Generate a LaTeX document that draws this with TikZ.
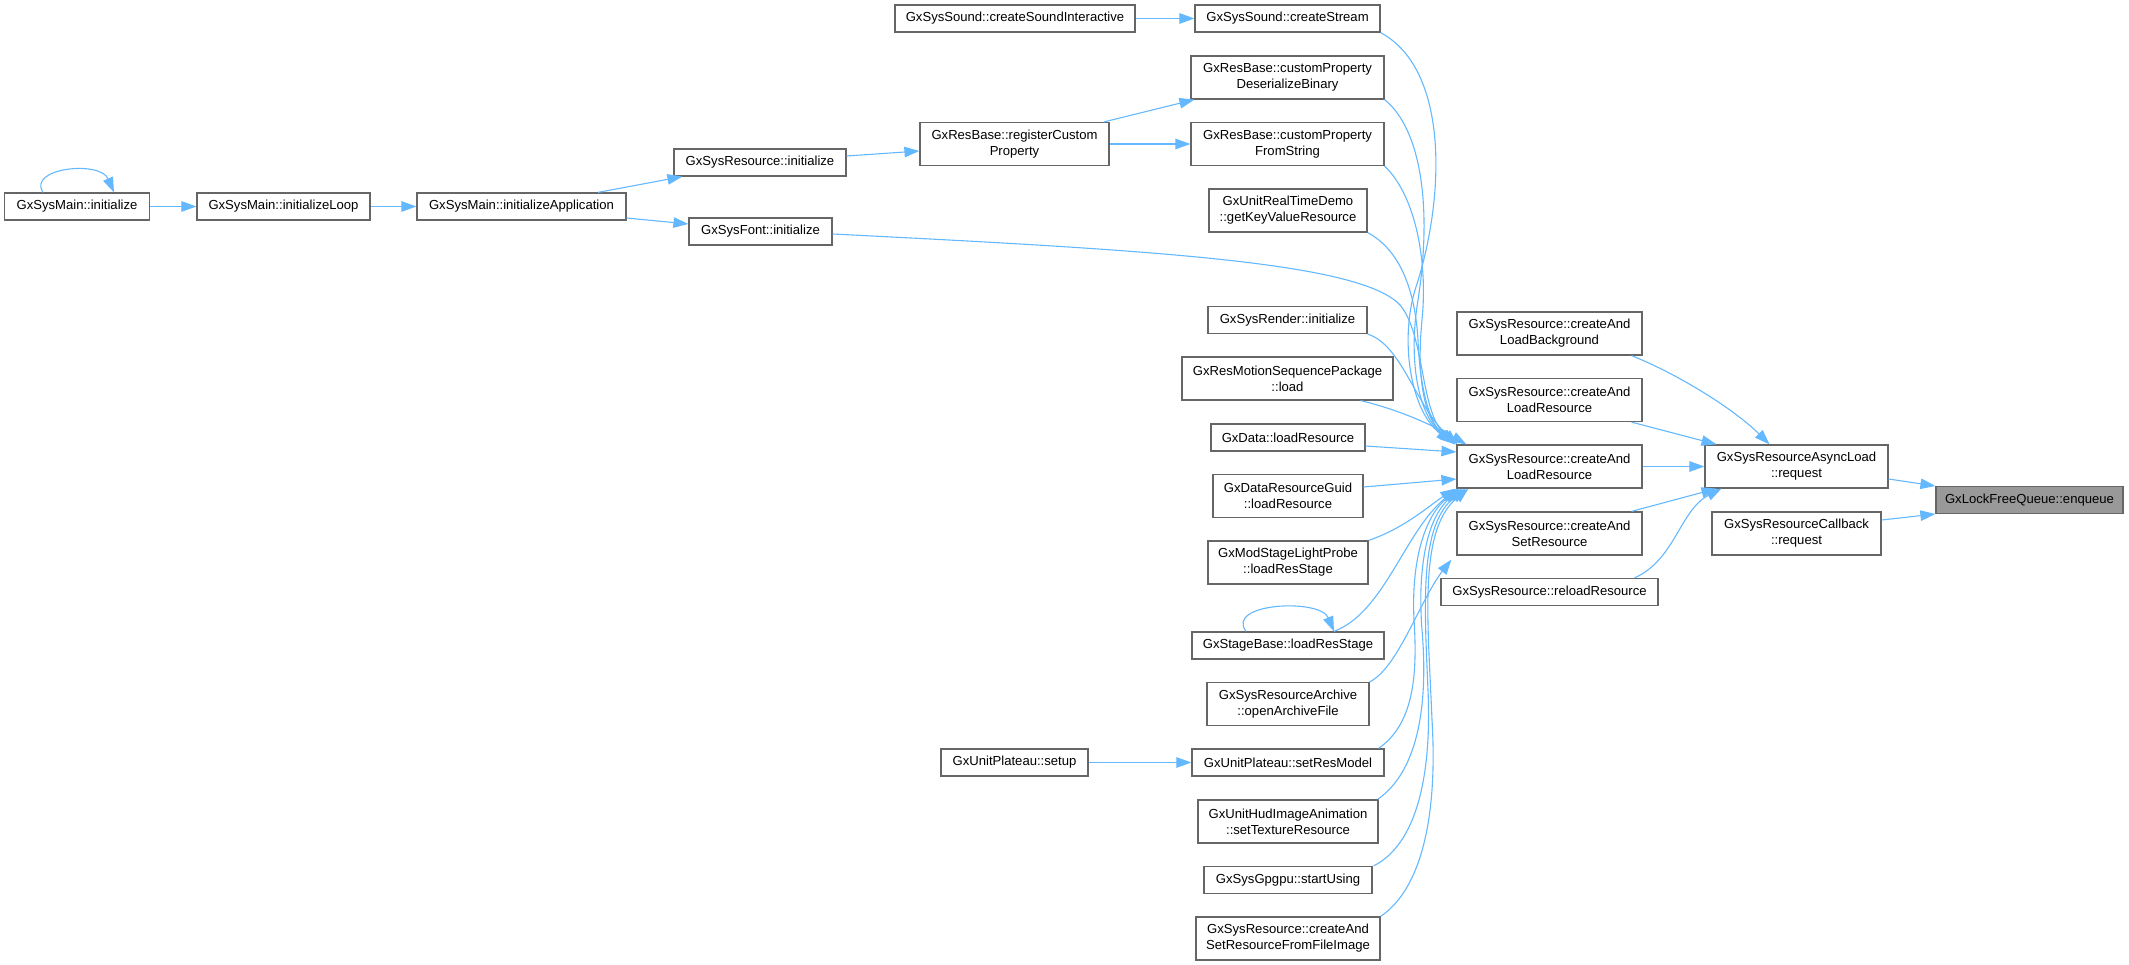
\documentclass[tikz,border=0pt]{standalone}
\usepackage{fontspec}
\setmainfont{Liberation Sans}
\usetikzlibrary{arrows.meta}
\definecolor{edgeblue}{HTML}{63B8FF}
\definecolor{boxgray}{HTML}{666666}
\definecolor{hifill}{HTML}{999999}
\begin{document}
\begin{tikzpicture}[x=1pt,y=-1pt,
 box/.style={draw=boxgray, fill=white, line width=1.2pt, inner sep=0pt, align=center,
   font=\fontsize{13.1}{16}\selectfont, minimum height=27pt},
 tall/.style={minimum height=43pt},
 edge/.style={draw=edgeblue, line width=1.1pt, -{Triangle[length=15pt,width=10.5pt]}},
]
\useasboundingbox (0,0) rectangle (2129,965);

% left chain
\node[box, minimum width=145.5pt] (mainInit) at (77,206.5) {GxSysMain::initialize};
\node[box, minimum width=173pt] (initLoop) at (283.5,206.5) {GxSysMain::initializeLoop};
\node[box, minimum width=209pt] (initApp) at (521.5,206.5) {GxSysMain::initializeApplication};
\node[box, minimum width=172pt] (resInit) at (760,162.5) {GxSysResource::initialize};
\node[box, minimum width=143pt] (fontInit) at (760.5,231.5) {GxSysFont::initialize};
\node[box, minimum width=240pt] (soundInter) at (1015,18.5) {GxSysSound::createSoundInteractive};
\node[box, tall, minimum width=189pt] (regProp) at (1014.5,144) {GxResBase::registerCustom\\Property};
\node[box, minimum width=147pt] (setup) at (1014.5,762.5) {GxUnitPlateau::setup};

% middle column
\node[box, minimum width=185pt] (createStream) at (1287.5,18.5) {GxSysSound::createStream};
\node[box, tall, minimum width=193pt] (deserBin) at (1287.5,77.5) {GxResBase::customProperty\\DeserializeBinary};
\node[box, tall, minimum width=193pt] (fromStr) at (1287.5,144) {GxResBase::customProperty\\FromString};
\node[box, tall, minimum width=158pt] (getKV) at (1288,210.5) {GxUnitRealTimeDemo\\::getKeyValueResource};
\node[box, minimum width=159pt] (render) at (1287.5,320) {GxSysRender::initialize};
\node[box, tall, minimum width=211pt] (motion) at (1287.5,378.5) {GxResMotionSequencePackage\\::load};
\node[box, minimum width=154pt] (dataLoad) at (1288,437.5) {GxData::loadResource};
\node[box, tall, minimum width=150pt] (guid) at (1288,496) {GxDataResourceGuid\\::loadResource};
\node[box, tall, minimum width=160pt] (probe) at (1288,562.5) {GxModStageLightProbe\\::loadResStage};
\node[box, minimum width=192pt] (stageBase) at (1288,645.5) {GxStageBase::loadResStage};
\node[box, tall, minimum width=162pt] (archive) at (1288,704) {GxSysResourceArchive\\::openArchiveFile};
\node[box, minimum width=192pt] (setResModel) at (1288,762.5) {GxUnitPlateau::setResModel};
\node[box, tall, minimum width=180pt] (hud) at (1288,821.5) {GxUnitHudImageAnimation\\::setTextureResource};
\node[box, minimum width=168pt] (gpgpu) at (1288,880) {GxSysGpgpu::startUsing};
\node[box, tall, minimum width=184pt] (fromFile) at (1288,938.5) {GxSysResource::createAnd\\SetResourceFromFileImage};

% right columns
\node[box, tall, minimum width=185pt] (loadBg) at (1549.5,333.5) {GxSysResource::createAnd\\LoadBackground};
\node[box, tall, minimum width=185pt] (loadRes2) at (1549.5,400) {GxSysResource::createAnd\\LoadResource};
\node[box, tall, minimum width=185pt] (hub) at (1549.5,466.5) {GxSysResource::createAnd\\LoadResource};
\node[box, tall, minimum width=185pt] (setRes) at (1549.5,533.5) {GxSysResource::createAnd\\SetResource};
\node[box, minimum width=217pt] (reload) at (1549.5,592) {GxSysResource::reloadResource};
\node[box, tall, minimum width=183pt] (async) at (1796.5,466.5) {GxSysResourceAsyncLoad\\::request};
\node[box, tall, minimum width=169pt] (callback) at (1796.5,533.5) {GxSysResourceCallback\\::request};
\node[box, fill=hifill, minimum width=187pt] (enqueue) at (2029.5,500) {GxLockFreeQueue::enqueue};

% left edges
\draw[edge] (mainInit.east) -- (initLoop.west);
\draw[edge] ([xshift=-34pt]mainInit.north) .. controls (27,168) and (100,160) .. ([xshift=37pt]mainInit.north);
\draw[edge] (initLoop.east) -- (initApp.west);
\draw[edge] ([xshift=76.5pt]initApp.north) -- ([xshift=9pt]resInit.south west);
\draw[edge] ([yshift=-11.5pt]initApp.east) -- ([yshift=7.5pt]fontInit.west);
\draw[edge] ([yshift=6.5pt]resInit.east) -- ([yshift=-7pt]regProp.west);
\draw[edge] ([xshift=89.5pt]regProp.north) -- ([xshift=4pt]deserBin.south west);
\draw[edge] (regProp.east) -- (fromStr.west);
\draw[edge] (soundInter.east) -- (createStream.west);
\draw[edge] (setup.east) -- (setResModel.west);

% edges into hub from above
\draw[edge] (createStream.south east) .. controls (1450,70) and (1445,200) .. (1415,290)
  .. controls (1400,340) and (1410,410) .. ([xshift=-5pt,yshift=2pt]hub.north west);
\draw[edge] (deserBin.south east) .. controls (1422,130) and (1432,210) .. (1418,300)
  .. controls (1408,360) and (1418,415) .. ([xshift=-3pt,yshift=1pt]hub.north west);
\draw[edge] (fromStr.south east) .. controls (1415,195) and (1428,260) .. (1422,320)
  .. controls (1416,380) and (1425,420) .. ([xshift=-2pt,yshift=1pt]hub.north west);
\draw[edge] (getKV.south east) .. controls (1400,250) and (1415,290) .. (1418,340)
  .. controls (1420,390) and (1430,425) .. ([xshift=-1pt]hub.north west);
\draw[edge] ([yshift=-2.5pt]fontInit.east) .. controls (1150,250) and (1360,262) .. (1400,305)
  .. controls (1425,335) and (1420,410) .. ([xshift=-2pt]hub.north west);
\draw[edge] (render.south east) .. controls (1402,345) and (1415,405) .. ([xshift=1pt]hub.north west);
\draw[edge] ([xshift=-33pt]motion.south east) .. controls (1400,410) and (1432,425) .. ([xshift=10pt]hub.north west);
\draw[edge] ([yshift=-8.5pt]dataLoad.east) -- ([yshift=14.5pt]hub.west);
\draw[edge] ([yshift=9pt]guid.east) -- ([yshift=-12.5pt]hub.west);

% edges into hub from below
\draw[edge] (probe.north east) .. controls (1405,528) and (1430,505) .. ([xshift=-1pt]hub.south west);
\draw[edge] ([xshift=46pt]stageBase.north) .. controls (1385,612) and (1405,530) .. ([xshift=1pt]hub.south west);
\draw[edge] ([xshift=-6pt]setResModel.north east) .. controls (1412,725) and (1418,680) .. (1414,620)
  .. controls (1411,560) and (1425,515) .. ([xshift=3pt]hub.south west);
\draw[edge] ([xshift=-1pt]hud.north east) .. controls (1420,770) and (1428,700) .. (1422,630)
  .. controls (1417,565) and (1428,515) .. ([xshift=6pt]hub.south west);
\draw[edge] ([xshift=1pt]gpgpu.north east) .. controls (1415,845) and (1432,780) .. (1428,690)
  .. controls (1424,600) and (1420,525) .. ([xshift=9pt]hub.south west);
\draw[edge] (fromFile.north east) .. controls (1420,890) and (1438,820) .. (1432,720)
  .. controls (1428,620) and (1418,530) .. ([xshift=12pt]hub.south west);
\draw[edge] ([xshift=-42pt]stageBase.north) .. controls (1225,603) and (1320,598) .. ([xshift=46pt]stageBase.north);
\draw[edge] (archive.north east) .. controls (1398,668) and (1420,600) .. ([xshift=-5pt,yshift=-4pt]setRes.south west);

% edges into async / enqueue
\draw[edge] ([xshift=82pt]loadBg.south) .. controls (1680,375) and (1735,410) .. ([xshift=-27pt]async.north);
\draw[edge] ([xshift=82pt]loadRes2.south) -- ([xshift=-80pt]async.north);
\draw[edge] (hub.east) -- (async.west);
\draw[edge] ([xshift=82pt]setRes.north) -- ([xshift=-80pt]async.south);
\draw[edge] ([xshift=85pt]reload.north) .. controls (1675,560) and (1680,510) .. ([xshift=-75pt]async.south);
\draw[edge] ([yshift=-12.5pt]async.east) -- ([yshift=14pt]enqueue.west);
\draw[edge] ([yshift=13.5pt]callback.east) -- ([yshift=-14pt]enqueue.west);
\end{tikzpicture}
\end{document}
